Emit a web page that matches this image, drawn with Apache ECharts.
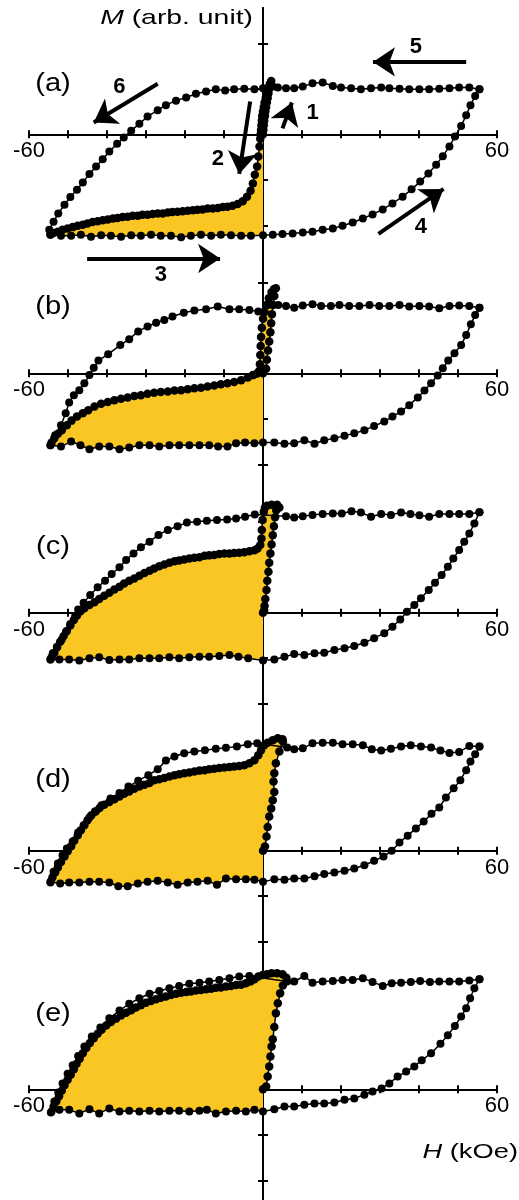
<!DOCTYPE html>
<html><head><meta charset="utf-8">
<script src="https://cdn.jsdelivr.net/npm/echarts@6/dist/echarts.min.js"></script>
<style>html,body{margin:0;padding:0;background:#fff}#c{width:519px;height:1200px}</style>
</head><body><div id="c"></div>
<script>
// ---------- data: H (kOe), M (arb. unit; 1 = one tick) ----------
const panelNames = ['(a)', '(b)', '(c)', '(d)', '(e)'];
const xTickLabels = [-60, 60];
const yTickValues = [-2, -1, 0, 1, 2];

const aTop = [[55.5,0.99],[52.9,1.03],[50.3,1.03],[47.8,1.01],[45.2,1.00],[42.6,0.99],[40.1,0.99],[37.5,0.99],[35.0,1.00],[32.4,1.01],[30.3,1.03],[27.7,1.01],[25.1,0.99],[22.6,1.01],[20.0,1.03],[17.9,1.06],[15.3,1.14],[12.7,1.12],[10.2,1.05],[8.0,1.01],[5.9,1.01],[3.8,1.03],[2.5,1.05],[0,1.01],[-2.2,0.99],[-4.8,1.00],[-7.4,0.99],[-9.7,0.96],[-12.1,0.99],[-14.6,0.94],[-17.2,0.89],[-19.7,0.81],[-22.3,0.74],[-24.9,0.64],[-27.0,0.53],[-29.6,0.39],[-31.7,0.23],[-33.8,0.08],[-35.7,-0.07],[-37.4,-0.21],[-39.4,-0.38],[-41.1,-0.55],[-42.8,-0.71],[-44.5,-0.87],[-46.2,-1.06],[-47.7,-1.22],[-49.4,-1.38],[-50.9,-1.55],[-52.5,-1.74],[-53.7,-1.92],[-54.8,-2.10]];
const aBottom = [[-54.5,-2.21],[-51.8,-2.23],[-49.2,-2.23],[-46.7,-2.21],[-44.1,-2.25],[-41.5,-2.22],[-39.0,-2.23],[-36.4,-2.25],[-33.8,-2.22],[-31.3,-2.23],[-28.7,-2.21],[-26.2,-2.23],[-23.6,-2.23],[-21.0,-2.26],[-18.5,-2.23],[-15.9,-2.21],[-13.3,-2.23],[-10.8,-2.21],[-8.2,-2.22],[-5.6,-2.23],[-3.1,-2.23],[0,-2.22],[2.5,-2.21],[5.0,-2.19],[7.6,-2.18],[10.2,-2.16],[12.7,-2.14],[15.3,-2.10],[17.9,-2.07],[20.4,-2.01],[23.0,-1.94],[25.6,-1.85],[28.1,-1.76],[30.7,-1.65],[33.2,-1.52],[35.8,-1.37],[38.1,-1.21],[40.3,-1.04],[42.4,-0.86],[44.4,-0.67],[46.1,-0.48],[47.8,-0.27],[49.2,-0.05],[50.8,0.18],[52.1,0.42],[53.2,0.64],[54.4,0.84],[55.5,0.99]];
const aVirgin = [[0,0],[0.1,0.1],[0.2,0.2],[0.3,0.3],[0.5,0.4],[0.6,0.5],[0.8,0.6],[1.0,0.7],[1.2,0.8],[1.4,0.9],[1.6,1.0],[1.9,1.1],[2.1,1.17]];
const aReturn = [[1.7,1.1],[1.3,1.0],[1.0,0.9],[0.7,0.8],[0.4,0.7],[0.2,0.6],[0.0,0.5],[-0.2,0.4],[-0.3,0.3],[-0.4,0.2],[-0.5,0.1],[-0.6,0.0],[-0.7,-0.1],[-0.9,-0.27],[-1.2,-0.49],[-1.5,-0.71],[-2.1,-0.89],[-2.6,-1.08],[-3.2,-1.24],[-4.1,-1.37],[-5.2,-1.47],[-6.5,-1.53],[-7.8,-1.57],[-9.1,-1.59],[-10.3,-1.60],[-11.6,-1.62],[-12.9,-1.63],[-14.2,-1.63],[-15.5,-1.65],[-16.8,-1.66],[-18.0,-1.67],[-19.3,-1.68],[-20.6,-1.69],[-21.9,-1.70],[-23.2,-1.71],[-24.4,-1.72],[-25.7,-1.74],[-27.0,-1.74],[-28.3,-1.75],[-29.6,-1.77],[-30.9,-1.77],[-32.1,-1.79],[-33.4,-1.79],[-34.7,-1.81],[-36.0,-1.82],[-37.3,-1.84],[-38.5,-1.85],[-39.8,-1.87],[-41.1,-1.89],[-42.4,-1.91],[-43.7,-1.93],[-45.0,-1.96],[-46.2,-1.99],[-47.5,-2.01],[-48.8,-2.04],[-50.1,-2.07],[-51.4,-2.10],[-52.6,-2.14],[-53.7,-2.17],[-54.5,-2.20]];

const bTop = [[55.5,1.44],[52.9,1.48],[50.3,1.49],[47.8,1.48],[45.2,1.43],[42.6,1.47],[40.1,1.48],[37.5,1.47],[35.0,1.50],[32.4,1.48],[29.8,1.48],[27.3,1.50],[24.7,1.48],[22.1,1.48],[19.6,1.50],[17.4,1.48],[14.9,1.48],[12.7,1.52],[10.2,1.49],[8.0,1.44],[5.9,1.48],[3.9,1.50],[-1.2,1.36],[-3.5,1.39],[-6.1,1.41],[-8.6,1.41],[-11.6,1.47],[-14.6,1.41],[-17.6,1.38],[-20.3,1.33],[-23.2,1.25],[-25.3,1.17],[-27.4,1.11],[-29.6,1.03],[-32.0,0.92],[-34.3,0.75],[-36.6,0.62],[-39.7,0.42],[-42.2,0.28],[-43.4,0.12],[-44.5,-0.04],[-45.8,-0.22],[-47.1,-0.37],[-48.5,-0.48],[-49.7,-0.64],[-50.6,-0.88],[-51.8,-1.14],[-53.3,-1.36],[-54.5,-1.58]];
const bBottom = [[-54.5,-1.58],[-51.8,-1.61],[-49.2,-1.50],[-46.8,-1.58],[-44.5,-1.67],[-42.0,-1.61],[-39.4,-1.61],[-36.8,-1.67],[-34.3,-1.63],[-31.7,-1.58],[-29.1,-1.58],[-26.6,-1.61],[-24.0,-1.58],[-21.5,-1.58],[-18.9,-1.58],[-16.3,-1.58],[-13.8,-1.58],[-11.5,-1.61],[-9.1,-1.61],[-6.9,-1.54],[-4.6,-1.52],[-2.2,-1.54],[0,-1.52],[2.9,-1.52],[5.5,-1.55],[8.0,-1.54],[10.6,-1.47],[13.2,-1.55],[15.7,-1.47],[18.3,-1.43],[20.9,-1.37],[23.4,-1.32],[26.0,-1.25],[28.5,-1.16],[31.1,-1.06],[33.2,-0.95],[35.4,-0.84],[37.5,-0.70],[39.7,-0.53],[41.4,-0.38],[43.1,-0.22],[44.8,-0.05],[46.1,0.11],[47.5,0.28],[49.1,0.44],[50.8,0.62],[52.1,0.84],[53.3,1.08],[54.4,1.28],[55.5,1.44]];
const bVirgin = [[0,0],[0.8,0.1],[1.0,0.3],[1.3,0.5],[1.6,0.7],[1.9,0.9],[2.1,1.1],[2.3,1.3],[2.6,1.5],[2.9,1.7],[3.3,1.87]];
const bReturn = [[2.8,1.85],[2.2,1.78],[1.5,1.65],[0.9,1.5],[0.4,1.35],[0.0,1.2],[-0.3,1.0],[-0.5,0.8],[-0.6,0.6],[-0.7,0.4],[-0.8,0.2],[-1.0,0.05],[-1.6,-0.01],[-2.6,-0.04],[-3.9,-0.09],[-5.6,-0.15],[-7.4,-0.19],[-9.1,-0.22],[-10.8,-0.24],[-12.5,-0.27],[-14.2,-0.29],[-15.9,-0.32],[-17.6,-0.33],[-19.3,-0.35],[-21.0,-0.37],[-22.7,-0.38],[-24.4,-0.40],[-26.2,-0.41],[-27.9,-0.43],[-29.6,-0.45],[-31.3,-0.48],[-33.0,-0.50],[-34.7,-0.53],[-36.4,-0.56],[-38.1,-0.59],[-39.8,-0.63],[-41.5,-0.67],[-43.2,-0.73],[-44.8,-0.81],[-46.2,-0.88],[-47.7,-0.95],[-49.1,-1.04],[-50.3,-1.14],[-51.6,-1.25],[-52.6,-1.33],[-53.5,-1.43],[-54.2,-1.52]];

const cTop = [[55.5,2.21],[52.9,2.17],[50.3,2.17],[47.8,2.17],[45.2,2.17],[42.6,2.11],[40.1,2.14],[37.8,2.17],[35.4,2.20],[32.8,2.15],[30.3,2.17],[27.7,2.11],[25.1,2.20],[22.7,2.23],[20.2,2.18],[17.9,2.18],[15.3,2.17],[12.7,2.15],[10.2,2.12],[8.0,2.09],[5.9,2.12],[-2.1,2.16],[-4.6,2.11],[-6.9,2.07],[-9.2,2.05],[-11.8,2.04],[-14.4,2.02],[-16.9,2.00],[-19.5,1.98],[-21.9,1.90],[-24.4,1.82],[-26.8,1.71],[-29.1,1.56],[-31.3,1.44],[-33.2,1.30],[-35.1,1.16],[-36.8,1.00],[-38.8,0.85],[-40.5,0.70],[-42.4,0.56],[-44.3,0.39],[-46.0,0.22],[-47.4,0.07],[-48.2,-0.09],[-49.4,-0.25],[-50.5,-0.42],[-51.6,-0.59],[-52.8,-0.75],[-53.9,-0.89],[-54.5,-1.03]];
const cBottom = [[-54.5,-1.03],[-52.2,-1.03],[-49.7,-1.03],[-47.1,-1.05],[-44.5,-1.00],[-42.0,-0.98],[-39.4,-1.04],[-36.8,-1.03],[-34.3,-1.03],[-31.7,-1.00],[-29.1,-1.00],[-26.6,-1.00],[-24.0,-0.98],[-21.5,-1.00],[-18.9,-0.98],[-16.3,-0.97],[-13.8,-0.97],[-11.2,-0.95],[-8.6,-0.93],[-6.3,-0.97],[-3.8,-1.00],[0,-1.05],[2.9,-1.03],[5.5,-0.97],[8.0,-0.91],[10.6,-0.93],[13.2,-0.89],[15.7,-0.88],[18.3,-0.82],[20.9,-0.78],[23.4,-0.73],[26.0,-0.66],[28.5,-0.56],[31.1,-0.45],[33.2,-0.31],[35.2,-0.15],[36.9,0.02],[38.8,0.17],[40.5,0.32],[42.5,0.50],[44.1,0.66],[45.8,0.83],[47.4,1.01],[48.8,1.19],[50.3,1.38],[51.6,1.56],[52.9,1.74],[54.2,1.96],[55.5,2.21]];
const cVirgin = [[0,0],[0.3,0.05],[0.4,0.15],[0.6,0.3],[0.9,0.5],[1.1,0.7],[1.4,0.9],[1.6,1.1],[1.9,1.3],[2.2,1.5],[2.5,1.7],[2.8,1.9],[3.1,2.1],[3.4,2.25],[3.8,2.33],[4.2,2.31]];
const cReturn = [[3.6,2.37],[2.2,2.37],[1.0,2.35],[0.5,2.31],[0.2,2.22],[-0.1,2.04],[-0.3,1.82],[-0.4,1.63],[-0.7,1.49],[-1.4,1.41],[-2.2,1.37],[-3.5,1.35],[-4.8,1.33],[-6.1,1.32],[-7.4,1.31],[-8.6,1.30],[-9.9,1.30],[-11.2,1.29],[-12.5,1.27],[-13.8,1.26],[-15.0,1.25],[-16.3,1.22],[-17.6,1.21],[-18.9,1.19],[-20.2,1.17],[-21.5,1.15],[-22.7,1.13],[-24.0,1.10],[-25.3,1.06],[-26.6,1.02],[-27.9,0.97],[-29.1,0.92],[-30.4,0.87],[-31.7,0.81],[-33.0,0.75],[-34.3,0.70],[-35.6,0.64],[-36.8,0.57],[-38.1,0.51],[-39.4,0.44],[-40.7,0.37],[-42.0,0.30],[-43.2,0.23],[-44.5,0.17],[-45.8,0.10],[-46.8,0.03],[-47.7,-0.06],[-48.5,-0.16],[-49.4,-0.28],[-50.3,-0.40],[-51.1,-0.51],[-52.0,-0.64],[-52.8,-0.76],[-53.5,-0.88],[-54.2,-0.98]];

const dTop = [[55.5,2.29],[52.9,2.30],[50.3,2.17],[47.8,2.15],[45.5,2.20],[43.1,2.27],[40.5,2.29],[37.9,2.32],[35.4,2.29],[32.8,2.24],[30.3,2.20],[27.9,2.23],[25.6,2.32],[23.0,2.34],[20.4,2.34],[17.9,2.37],[15.3,2.37],[12.7,2.36],[10.2,2.25],[8.0,2.23],[6.2,2.27],[-1.5,2.36],[-3.9,2.34],[-6.7,2.29],[-9.5,2.26],[-12.1,2.24],[-14.9,2.21],[-17.6,2.18],[-20.2,2.14],[-22.7,2.07],[-24.9,1.98],[-27.0,1.79],[-29.4,1.66],[-32.0,1.54],[-34.5,1.41],[-36.8,1.27],[-39.1,1.15],[-41.4,1.00],[-43.1,0.86],[-44.5,0.73],[-46.0,0.56],[-47.4,0.40],[-48.8,0.20],[-50.3,0.05],[-51.4,-0.10],[-52.6,-0.28],[-53.7,-0.46],[-54.5,-0.68]];
const dBottom = [[-54.5,-0.70],[-52.0,-0.72],[-49.7,-0.70],[-47.1,-0.70],[-44.5,-0.68],[-42.0,-0.68],[-39.4,-0.70],[-37.1,-0.78],[-34.7,-0.78],[-32.1,-0.72],[-29.6,-0.68],[-27.0,-0.66],[-24.4,-0.70],[-21.9,-0.75],[-19.3,-0.70],[-16.8,-0.68],[-14.2,-0.66],[-11.8,-0.75],[-9.5,-0.61],[-6.9,-0.63],[-4.4,-0.63],[-2.2,-0.64],[0,-0.68],[2.9,-0.63],[5.5,-0.64],[8.0,-0.61],[10.6,-0.61],[13.2,-0.56],[15.7,-0.51],[18.3,-0.48],[20.9,-0.44],[23.4,-0.39],[26.0,-0.32],[28.5,-0.22],[30.9,-0.13],[33.0,0.00],[35.0,0.18],[37.1,0.33],[39.2,0.49],[41.2,0.64],[43.2,0.81],[45.2,0.95],[46.9,1.17],[48.9,1.37],[50.6,1.55],[52.1,1.77],[53.2,1.96],[54.4,2.12],[55.5,2.29]];
const dVirgin = [[0,0],[0.5,0.09],[0.9,0.31],[1.2,0.52],[1.6,0.75],[2.1,0.93],[2.5,1.11],[2.9,1.29],[2.7,1.52],[2.9,1.70],[3.3,1.92],[4.2,2.18],[5.1,2.40]];
const dReturn = [[5.0,2.45],[3.8,2.47],[2.5,2.43],[1.2,2.37],[0.3,2.32],[-0.5,2.21],[-1.2,2.10],[-2.2,1.99],[-3.5,1.92],[-4.8,1.88],[-6.1,1.86],[-7.4,1.85],[-8.6,1.84],[-9.9,1.83],[-11.2,1.82],[-12.5,1.80],[-13.8,1.79],[-15.0,1.77],[-16.3,1.76],[-17.6,1.74],[-18.9,1.72],[-20.2,1.70],[-21.5,1.68],[-22.7,1.66],[-24.0,1.63],[-25.3,1.60],[-26.6,1.57],[-27.9,1.55],[-29.1,1.49],[-30.4,1.45],[-31.7,1.41],[-33.0,1.36],[-34.3,1.30],[-35.6,1.25],[-36.8,1.19],[-38.1,1.13],[-39.4,1.07],[-40.7,1.01],[-41.9,0.94],[-42.9,0.86],[-44.0,0.78],[-45.0,0.67],[-45.8,0.56],[-46.7,0.45],[-47.5,0.34],[-48.4,0.22],[-49.2,0.10],[-50.1,-0.01],[-50.9,-0.13],[-51.8,-0.25],[-52.6,-0.37],[-53.3,-0.48],[-54.0,-0.59]];

const eTop = [[55.5,2.42],[52.9,2.39],[50.3,2.37],[47.8,2.37],[45.2,2.37],[42.8,2.36],[40.3,2.38],[37.9,2.36],[35.4,2.34],[33.0,2.33],[30.7,2.27],[28.1,2.36],[25.6,2.44],[23.0,2.40],[20.4,2.40],[17.9,2.38],[15.3,2.37],[12.7,2.34],[10.6,2.49],[8.0,2.37],[6.2,2.37],[-3.5,2.49],[-6.1,2.48],[-8.6,2.44],[-11.2,2.40],[-13.8,2.37],[-16.3,2.34],[-18.9,2.32],[-21.5,2.27],[-24.0,2.22],[-26.6,2.16],[-29.1,2.10],[-31.7,2.00],[-34.3,1.88],[-36.8,1.73],[-39.4,1.56],[-41.7,1.36],[-43.9,1.16],[-45.8,0.94],[-47.4,0.73],[-48.8,0.53],[-50.1,0.34],[-51.4,0.13],[-52.5,-0.07],[-53.5,-0.27],[-54.2,-0.49]];
const eBottom = [[-54.4,-0.51],[-52.2,-0.45],[-49.7,-0.45],[-47.1,-0.53],[-44.5,-0.44],[-42.0,-0.53],[-39.4,-0.42],[-36.8,-0.49],[-34.3,-0.47],[-31.7,-0.49],[-29.1,-0.47],[-26.6,-0.49],[-24.0,-0.47],[-21.5,-0.47],[-18.9,-0.49],[-16.3,-0.47],[-14.4,-0.45],[-12.1,-0.53],[-9.5,-0.49],[-6.9,-0.47],[-4.4,-0.49],[-2.2,-0.45],[0,-0.49],[2.9,-0.44],[5.5,-0.38],[8.0,-0.38],[10.6,-0.34],[13.2,-0.31],[15.7,-0.31],[18.3,-0.29],[20.9,-0.23],[23.4,-0.20],[26.0,-0.12],[28.1,-0.05],[30.4,0.02],[32.4,0.13],[34.5,0.28],[36.7,0.39],[38.8,0.50],[40.7,0.64],[43.1,0.79],[45.5,1.00],[47.4,1.19],[49.2,1.39],[50.8,1.60],[52.1,1.78],[53.1,2.00],[54.2,2.22],[55.5,2.42]];
const eVirgin = [[0,0],[0.8,0.06],[1.2,0.28],[1.6,0.50],[1.9,0.72],[2.2,0.94],[2.5,1.10],[2.9,1.37],[3.3,1.67],[3.8,1.89],[4.4,2.11],[5.1,2.28],[6.0,2.45]];
const eReturn = [[5.0,2.53],[3.6,2.55],[2.2,2.55],[1.0,2.53],[-0.1,2.51],[-1.2,2.48],[-2.2,2.42],[-3.2,2.37],[-4.4,2.33],[-5.6,2.30],[-6.9,2.29],[-8.2,2.27],[-9.5,2.26],[-10.8,2.24],[-12.1,2.23],[-13.3,2.21],[-14.6,2.20],[-15.9,2.18],[-17.2,2.17],[-18.5,2.15],[-19.7,2.14],[-21.0,2.12],[-22.3,2.10],[-23.6,2.07],[-24.9,2.04],[-26.2,2.01],[-27.4,1.98],[-28.7,1.94],[-30.0,1.90],[-31.3,1.85],[-32.6,1.80],[-33.8,1.74],[-35.1,1.68],[-36.4,1.62],[-37.7,1.55],[-39.0,1.48],[-40.2,1.40],[-41.4,1.31],[-42.4,1.22],[-43.4,1.12],[-44.4,1.02],[-45.3,0.91],[-46.2,0.79],[-47.0,0.67],[-47.8,0.56],[-48.5,0.44],[-49.3,0.32],[-50.1,0.21],[-50.9,0.09],[-51.6,-0.03],[-52.3,-0.15],[-53.0,-0.26],[-53.7,-0.38]];

// arrows and their numbers, in panel (a) data units
const arrowLines = [
  [[52.1,1.59],[28.2,1.59]],
  [[-27.0,1.11],[-43.4,0.26]],
  [[5.0,0.13],[7.4,0.70]],
  [[-3.3,0.72],[-6.1,-0.87]],
  [[29.6,-2.19],[46.3,-1.20]],
  [[-45.1,-2.73],[-11.0,-2.73]]
];
const arrowNumbers = [[39.2,1.91,'5'],[-36.8,1.03,'6'],[12.7,0.46,'1'],[-11.6,-0.55,'2'],[40.5,-2.03,'4'],[-26.2,-3.09,'3']];

// ---------- layout ----------
const YELLOW = '#F9C623';
const FONT = '"Liberation Sans", Arial, sans-serif';
const AXIS_Y = [134.3, 373.3, 612.7, 850.7, 1089.3];
const UNIT = 45.5;
const GRID_TOP = [8, 243, 483, 721, 959];
const GRID_BOT = [300, 503, 743, 981, 1200];
const LABEL_Y = [84, 307, 547, 780, 1014];

const panels = [
  {top:aTop, bottom:aBottom, virgin:aVirgin, ret:aReturn},
  {top:bTop, bottom:bBottom, virgin:bVirgin, ret:bReturn},
  {top:cTop, bottom:cBottom, virgin:cVirgin, ret:cReturn},
  {top:dTop, bottom:dBottom, virgin:dVirgin, ret:dReturn},
  {top:eTop, bottom:eBottom, virgin:eVirgin, ret:eReturn}
];

const axisLineStyle = {color:'#000', width:2};
const grids = [], xAxes = [], yAxes = [], series = [];
panels.forEach((p, i) => {
  grids.push({left:29, width:468, top:GRID_TOP[i], height:GRID_BOT[i]-GRID_TOP[i], containLabel:false});
  const ymin = -(GRID_BOT[i]-AXIS_Y[i])/UNIT, ymax = (AXIS_Y[i]-GRID_TOP[i])/UNIT;
  ['bottom','top'].forEach((pos, k) => {
    const off = k === 0 ? -(GRID_BOT[i]-AXIS_Y[i]) : -(AXIS_Y[i]-GRID_TOP[i]);
    xAxes.push({type:'value', gridIndex:i, min:-60, max:60, interval:10, position:pos, offset:off,
      axisLine:{show:true, onZero:false, lineStyle:axisLineStyle},
      axisTick:{show:true, length:4, lineStyle:{color:'#000', width:2}},
      axisLabel:{show:k===0, color:'#000', fontSize:22, fontFamily:FONT, margin:6,
        showMinLabel:true, showMaxLabel:true, hideOverlap:false,
        formatter: v => xTickLabels.indexOf(v) >= 0 ? String(v) : ''},
      splitLine:{show:false}});
  });
  ['left','right'].forEach((pos, k) => {
    yAxes.push({type:'value', gridIndex:i, min:ymin, max:ymax, position:pos,
      axisLine:{show:true, onZero:true, onZeroAxisIndex:2*i+k, lineStyle:axisLineStyle},
      axisTick:{show:true, length:5, customValues:yTickValues, lineStyle:{color:'#000', width:2}},
      axisLabel:{show:false}, splitLine:{show:false}});
  });
  const poly = p.virgin.concat(p.ret, p.bottom.filter(q => q[0] <= 0));
  series.push({type:'custom', xAxisIndex:2*i, yAxisIndex:2*i, z:1, silent:true, clip:false,
    data:[[0,0]],
    renderItem: (params, api) => ({type:'polygon',
      shape:{points: poly.map(q => api.coord(q))}, style:{fill:YELLOW}})});
  const lineCommon = {type:'line', xAxisIndex:2*i, yAxisIndex:2*i, symbol:'circle', symbolSize:8,
    showAllSymbol:true, clip:false, silent:true, animation:false, z:3,
    itemStyle:{color:'#000'}, lineStyle:{color:'#000', width:1.5}};
  const outer = Object.assign({}, lineCommon, {data: p.top.concat(p.bottom)});
  if (i === 0) {
    outer.markLine = {silent:true, animation:false, symbol:['none','arrow'], symbolSize:22,
      lineStyle:{color:'#000', width:4, type:'solid'}, label:{show:false},
      emphasis:{disabled:true},
      data: arrowLines.map(l => [{coord:l[0]}, {coord:l[1]}])};
  }
  series.push(outer);
  series.push(Object.assign({}, lineCommon, {symbolSize:8.5, data: p.virgin.concat(p.ret)}));
});
series.push({type:'scatter', xAxisIndex:0, yAxisIndex:0, symbolSize:2, silent:true, clip:false, z:5,
  itemStyle:{color:'rgba(0,0,0,0)'}, data: arrowNumbers,
  label:{show:true, position:'inside', formatter: q => q.data[2], color:'#000', opacity:1,
    textBorderWidth:0, fontSize:22, fontWeight:'bold', fontFamily:FONT}});

const graphic = panelNames.map((t, i) => ({type:'text', x:53, y:LABEL_Y[i], scaleX:1.12,
  style:{text:t, font:'26px ' + FONT, fill:'#000', align:'center', verticalAlign:'middle',
    textAlign:'center', textVerticalAlign:'middle'}}));
graphic.push({type:'text', x:253, y:18, scaleX:1.35,
  style:{text:'{i|M} (arb. unit)', font:'21px ' + FONT, fill:'#000', align:'right', verticalAlign:'middle',
    textAlign:'right', textVerticalAlign:'middle',
    rich:{i:{fontStyle:'italic', fontSize:21, fontFamily:FONT, fill:'#000'}}}});
graphic.push({type:'text', x:518, y:1152, scaleX:1.3,
  style:{text:'{i|H} (kOe)', font:'21px ' + FONT, fill:'#000', align:'right', verticalAlign:'middle',
    textAlign:'right', textVerticalAlign:'middle',
    rich:{i:{fontStyle:'italic', fontSize:21, fontFamily:FONT, fill:'#000'}}}});

const chart = echarts.init(document.getElementById('c'), null, {renderer:'canvas'});
chart.setOption({animation:false, backgroundColor:'#fff', grid:grids, xAxis:xAxes, yAxis:yAxes,
  series:series, graphic:graphic});
</script></body></html>
